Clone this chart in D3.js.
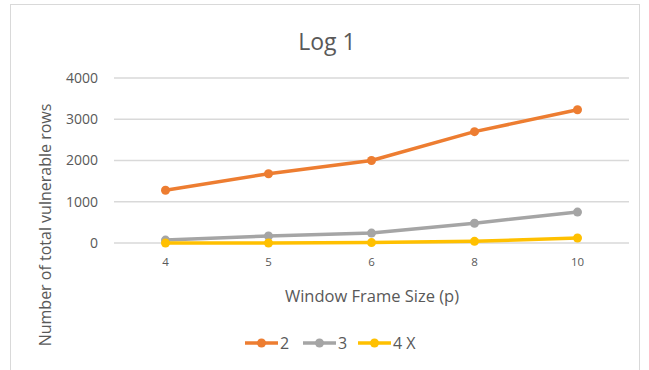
<!DOCTYPE html>
<html>
<head>
<meta charset="utf-8">
<script src="https://cdn.jsdelivr.net/npm/d3@7"></script>
<style>
  body { margin: 0; background: #fff; }
  text { font-family: "Open Sans", "Liberation Sans", sans-serif; fill: #595959; }
</style>
</head>
<body>
<script>
// chart data
const categories = ["4", "5", "6", "8", "10"];
const seriesNames = ["2", "3", "4 X"];
const seriesColors = ["#ed7d31", "#a5a5a5", "#ffc000"];
const values2 = [1280, 1680, 2000, 2700, 3230];
const values3 = [70, 170, 240, 480, 750];
const values4X = [0, 0, 10, 40, 120];
const yTicks = [0, 1000, 2000, 3000, 4000];

const allSeries = [values2, values3, values4X];

const svg = d3.select("body").append("svg")
  .attr("width", 649)
  .attr("height", 370);

// outer chart border
svg.append("rect")
  .attr("x", 10.5).attr("y", 4.5)
  .attr("width", 629).attr("height", 380)
  .attr("fill", "#fff")
  .attr("stroke", "#d9d9d9");

let x = d3.scaleBand().domain(categories).range([114, 629]);
let y = d3.scaleLinear().domain([0, 4000]).range([243, 78]);

// gridlines
svg.append("g")
  .selectAll("line")
  .data(yTicks)
  .enter()
  .append("line")
  .attr("x1", 114).attr("x2", 629)
  .attr("y1", (d) => y(d)).attr("y2", (d) => y(d))
  .attr("stroke", "#d9d9d9")
  .attr("stroke-width", 1.3);

// y axis labels
let yAxis = d3.axisLeft(y).tickValues(yTicks).tickSize(0).tickPadding(0).tickFormat(d3.format("d"));
let gy = svg.append("g").attr("transform", "translate(98,0)").call(yAxis);
gy.select(".domain").remove();
gy.selectAll("text").style("font-size", "14px").attr("fill", "#595959");

// x axis labels
let xAxis = d3.axisBottom(x).tickSize(0).tickPadding(0);
let gx = svg.append("g").attr("transform", "translate(0,258)").call(xAxis);
gx.select(".domain").remove();
gx.selectAll("text").style("font-size", "11.5px").attr("fill", "#595959");

// lines and markers
let line = d3.line()
  .x((d, i) => x(categories[i]) + x.bandwidth() / 2)
  .y((d) => y(d));

allSeries.forEach((vals, s) => {
  svg.append("path")
    .datum(vals)
    .attr("fill", "none")
    .attr("stroke", seriesColors[s])
    .attr("stroke-width", 3.5)
    .attr("stroke-linejoin", "round")
    .attr("stroke-linecap", "round")
    .attr("d", line);
  svg.append("g").selectAll("circle")
    .data(vals)
    .enter()
    .append("circle")
    .attr("cx", (d, i) => x(categories[i]) + x.bandwidth() / 2)
    .attr("cy", (d) => y(d))
    .attr("r", 4.5)
    .attr("fill", seriesColors[s]);
});

// title and axis titles
svg.append("text")
  .attr("x", 327).attr("y", 50)
  .attr("text-anchor", "middle")
  .style("font-size", "23px")
  .text("Log 1");

svg.append("text")
  .attr("x", 372).attr("y", 302)
  .attr("text-anchor", "middle")
  .style("font-size", "16.5px")
  .text("Window Frame Size (p)");

svg.append("text")
  .attr("transform", "translate(51, 225)rotate(-90)")
  .attr("text-anchor", "middle")
  .style("font-size", "16px")
  .text("Number of total vulnerable rows");

// legend
let legendX = [245, 303, 358];
seriesNames.forEach((name, i) => {
  let g = svg.append("g").attr("transform", "translate(" + legendX[i] + ",343)");
  g.append("line")
    .attr("x1", 0).attr("x2", 33)
    .attr("stroke", seriesColors[i])
    .attr("stroke-width", 3.5);
  g.append("circle").attr("cx", 16.5).attr("r", 4.5).attr("fill", seriesColors[i]);
  g.append("text")
    .attr("x", 35).attr("y", 6)
    .style("font-size", "16px")
    .text(name);
});
</script>
</body>
</html>
